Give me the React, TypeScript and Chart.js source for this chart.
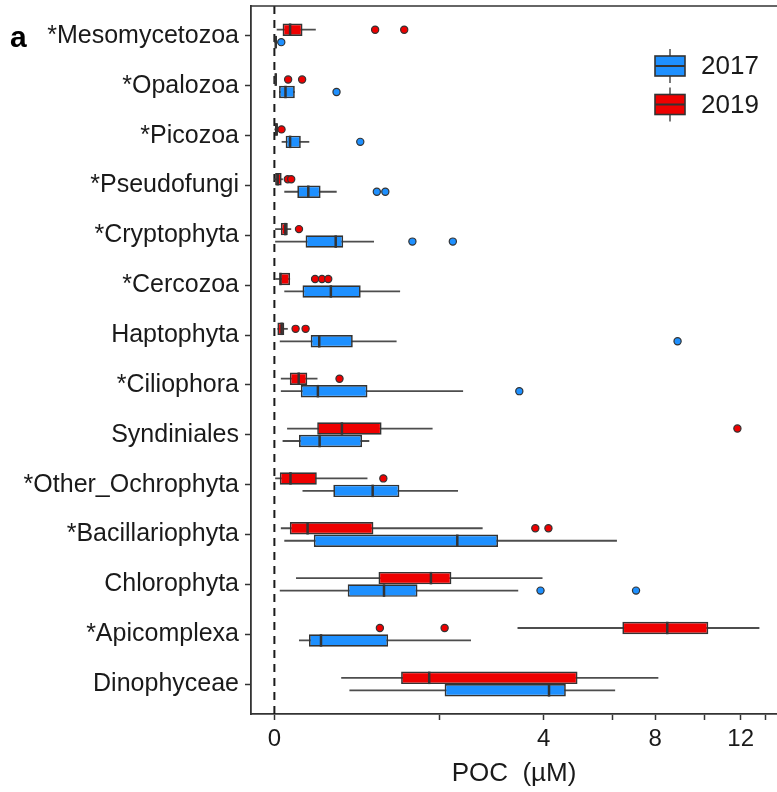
import React, { useEffect, useRef } from 'react';
import { Chart, registerables, LinearScale } from 'chart.js';

Chart.register(...registerables);

// ---------- data ----------
const categories = [
  '*Mesomycetozoa', '*Opalozoa', '*Picozoa', '*Pseudofungi', '*Cryptophyta', '*Cercozoa',
  'Haptophyta', '*Ciliophora', 'Syndiniales', '*Other_Ochrophyta', '*Bacillariophyta',
  'Chlorophyta', '*Apicomplexa', 'Dinophyceae',
];

const xMajorTicks = [0, 4, 8, 12];
const xMinorTicks = [1.5, 6.3, 10.2, 13.3];

// 2019 (red)
const low2019 = [0.0003, 0, 0, 0, 0.00003, 0.00003, 0.0005, 0.0023, 0.0089, 0.00003, 0.0023, 0.0258, 3.262, 0.2463];
const q1_2019 = [0.0037, 0, 0, 0.00003, 0.0023, 0.0016, 0.0005, 0.0131, 0.1011, 0.0016, 0.0131, 0.598, 6.681, 0.886];
const med2019 = [0.0136, 0.0001, 0.0002, 0.0006, 0.0066, 0.002, 0.0029, 0.0326, 0.2515, 0.0143, 0.0608, 1.352, 8.516, 1.3227];
const q3_2019 = [0.0436, 0.0003, 0.0007, 0.0029, 0.0099, 0.0136, 0.0054, 0.0597, 0.634, 0.0992, 0.541, 1.729, 10.39, 5.071];
const high2019 = [0.0946, 0.0003, 0.0007, 0.004, 0.0156, 0.0136, 0.0099, 0.1025, 1.381, 0.478, 2.393, 3.967, 12.98, 8.135];
const out2019 = [[0.56, 0.93], [0.0104, 0.0424], [0.0028], [0.0099, 0.0156], [0.0334], [0.0914, 0.125, 0.16], [0.0248, 0.0537], [0.234], [11.83], [0.655], [3.757, 4.144], [], [0.614, 1.599], []];

// 2017 (blue)
const low2017 = [0, 0.0012, 0.0029, 0.0054, 0.00003, 0.0054, 0.0016, 0.0023, 0.0037, 0.0436, 0.0054, 0.0016, 0.0334, 0.3105];
const q1_2017 = [0, 0.0012, 0.007, 0.0289, 0.0537, 0.0436, 0.0727, 0.0385, 0.0334, 0.1915, 0.0857, 0.2966, 0.0661, 1.599];
const med2017 = [0.0001, 0.0068, 0.0136, 0.0634, 0.2074, 0.176, 0.111, 0.1044, 0.1128, 0.533, 1.846, 0.663, 0.1199, 4.162];
const q3_2017 = [0.0002, 0.023, 0.0385, 0.1178, 0.2613, 0.411, 0.339, 0.478, 0.4245, 0.862, 2.76, 1.13, 0.7136, 4.687];
const high2017 = [0.0002, 0.023, 0.0672, 0.2142, 0.5476, 0.872, 0.824, 1.965, 0.497, 1.861, 6.475, 3.281, 2.133, 6.407];
const out2017 = [[0.0026], [0.213], [0.407], [0.579, 0.679], [1.051, 1.757], [], [8.97], [3.31], [], [], [], [3.908, 7.217], [], []];

const RED = '#EE0000';
const BLUE = '#1E90FF';
const FONT = "'Liberation Sans', Arial, Helvetica, sans-serif";
const TEXT = '#1a1a1a';

const series = [
  { label: '2019', color: RED, low: low2019, q1: q1_2019, med: med2019, q3: q3_2019, high: high2019, out: out2019 },
  { label: '2017', color: BLUE, low: low2017, q1: q1_2017, med: med2017, q3: q3_2017, high: high2017, out: out2017 },
];
const legendOrder = [1, 0];

// ---------- square-root scale ----------
const tr = (v: number) => Math.sign(v) * Math.sqrt(Math.abs(v));

class SqrtScale extends LinearScale {
  static id = 'sqrtLinear';
  static defaults = LinearScale.defaults;
  getPixelForValue(value: any) {
    if (value === null || value === undefined || isNaN(value)) return NaN;
    const a = tr(this.min);
    const b = tr(this.max);
    return this.getPixelForDecimal((tr(value) - a) / (b - a));
  }
  getValueForPixel(pixel: number) {
    const a = tr(this.min);
    const b = tr(this.max);
    const t = a + this.getDecimalForPixel(pixel) * (b - a);
    return Math.sign(t) * t * t;
  }
}
Chart.register(SqrtScale as any);

// ---------- plugin for whiskers, medians, outliers, frame, legend ----------
const boxplotPlugin = {
  id: 'boxplotExtras',
  beforeDatasetsDraw(chart: any) {
    const { ctx, chartArea } = chart;
    const xs = chart.scales.x;
    const x0 = xs.getPixelForValue(0);
    ctx.save();
    ctx.strokeStyle = '#1a1a1a';
    ctx.lineWidth = 2;
    ctx.setLineDash([8, 6]);
    ctx.beginPath();
    ctx.moveTo(x0, chartArea.top);
    ctx.lineTo(x0, chartArea.bottom);
    ctx.stroke();
    ctx.setLineDash([]);
    ctx.strokeStyle = '#4d4d4d';
    ctx.lineWidth = 1.8;
    series.forEach((s, di) => {
      const meta = chart.getDatasetMeta(di);
      meta.data.forEach((el: any, i: number) => {
        ctx.beginPath();
        ctx.moveTo(xs.getPixelForValue(s.low[i]), el.y);
        ctx.lineTo(xs.getPixelForValue(s.high[i]), el.y);
        ctx.stroke();
      });
    });
    ctx.restore();
  },
  afterDatasetsDraw(chart: any) {
    const { ctx } = chart;
    const xs = chart.scales.x;
    ctx.save();
    series.forEach((s, di) => {
      const meta = chart.getDatasetMeta(di);
      meta.data.forEach((el: any, i: number) => {
        const h = el.height;
        const xm = xs.getPixelForValue(s.med[i]);
        ctx.strokeStyle = '#333333';
        ctx.lineWidth = 2.5;
        ctx.beginPath();
        ctx.moveTo(xm, el.y - h / 2);
        ctx.lineTo(xm, el.y + h / 2);
        ctx.stroke();
        s.out[i].forEach((v: number) => {
          ctx.beginPath();
          ctx.arc(xs.getPixelForValue(v), el.y, 3.6, 0, Math.PI * 2);
          ctx.fillStyle = s.color;
          ctx.fill();
          ctx.lineWidth = 1.2;
          ctx.strokeStyle = '#333333';
          ctx.stroke();
        });
      });
    });
    ctx.restore();
  },
  afterDraw(chart: any) {
    const { ctx, chartArea } = chart;
    ctx.save();
    // top frame line
    ctx.strokeStyle = '#333333';
    ctx.lineWidth = 1.5;
    ctx.beginPath();
    ctx.moveTo(chartArea.left, chartArea.top);
    ctx.lineTo(chartArea.right, chartArea.top);
    ctx.stroke();

    // legend
    const lx = chartArea.right - 122;
    const rows = [60, 98.5];
    legendOrder.forEach((si, r) => {
      const s = series[si];
      const cy = chartArea.top + rows[r];
      ctx.strokeStyle = '#4d4d4d';
      ctx.lineWidth = 1.5;
      ctx.beginPath();
      ctx.moveTo(lx + 15, cy - 17);
      ctx.lineTo(lx + 15, cy + 17);
      ctx.stroke();
      ctx.fillStyle = s.color;
      ctx.fillRect(lx, cy - 10, 30, 20);
      ctx.strokeStyle = '#333333';
      ctx.lineWidth = 1.6;
      ctx.strokeRect(lx, cy - 10, 30, 20);
      ctx.lineWidth = 2;
      ctx.beginPath();
      ctx.moveTo(lx, cy);
      ctx.lineTo(lx + 30, cy);
      ctx.stroke();
      ctx.fillStyle = TEXT;
      ctx.font = `26px ${FONT}`;
      ctx.textAlign = 'left';
      ctx.textBaseline = 'middle';
      ctx.fillText(s.label, lx + 46, cy + 1);
    });

    // panel letter
    ctx.fillStyle = '#000';
    ctx.font = `bold 30px ${FONT}`;
    ctx.textAlign = 'left';
    ctx.textBaseline = 'alphabetic';
    ctx.fillText('a', 10, 47);
    ctx.restore();
  },
};

export default function App() {
  const ref = useRef<HTMLCanvasElement>(null);
  useEffect(() => {
    if (!ref.current) return;
    const chart = new Chart(ref.current, {
      type: 'bar',
      data: {
        datasets: series.map((s) => ({
          label: s.label,
          data: categories.map((_, i) => ({ y: i, x: [s.q1[i], s.q3[i]] })),
          backgroundColor: s.color,
          borderColor: '#333333',
          borderWidth: 1.7,
          borderSkipped: false,
          categoryPercentage: 0.5,
          barPercentage: 1,
        })) as any,
      },
      options: {
        animation: false,
        responsive: false,
        indexAxis: 'y',
        events: [],
        layout: { padding: { top: 6, right: 0, left: 0, bottom: 0 } },
        plugins: { legend: { display: false }, tooltip: { enabled: false } },
        scales: {
          x: {
            type: 'sqrtLinear' as any,
            min: -0.0302,
            max: 13.94,
            offset: false,
            afterBuildTicks: (s: any) => {
              s.ticks = [...xMajorTicks, ...xMinorTicks].sort((a, b) => a - b).map((v) => ({ value: v }));
            },
            afterFit: (s: any) => { s.height = 78; },
            grid: { offset: false, drawOnChartArea: false, drawTicks: true, tickLength: 6, tickWidth: 1.5, tickColor: '#333333' },
            border: { display: true, color: '#333333', width: 1.8 },
            ticks: {
              autoSkip: false,
              maxRotation: 0,
              padding: 5,
              color: TEXT,
              font: { size: 24, family: FONT },
              callback: (v: any) => (xMajorTicks.includes(v) ? String(v) : ''),
            },
            title: {
              display: true,
              text: 'POC  (µM)',
              color: TEXT,
              font: { size: 26, family: FONT, lineHeight: 1.2 },
              padding: { top: 0, bottom: 3 },
            },
          },
          y: {
            type: 'linear',
            reverse: true,
            min: -0.6,
            max: 13.6,
            offset: false,
            afterBuildTicks: (s: any) => {
              s.ticks = categories.map((_, i) => ({ value: i }));
            },
            afterFit: (s: any) => { s.width = 251; s.paddingTop = 0; s.paddingBottom = 0; },
            grid: { offset: false, drawOnChartArea: false, drawTicks: true, tickLength: 6, tickWidth: 1.5, tickColor: '#333333' },
            border: { display: true, color: '#333333', width: 1.8 },
            ticks: {
              autoSkip: false,
              padding: 6,
              color: TEXT,
              font: { size: 25, family: FONT },
              callback: (v: any) => categories[v] ?? '',
            },
          },
        },
      } as any,
      plugins: [boxplotPlugin],
    });
    return () => chart.destroy();
  }, []);
  return (
    <div style={{ position: 'absolute', left: 0, top: 0, width: 777, height: 792, background: '#ffffff' }}>
      <canvas ref={ref} width={777} height={792} style={{ display: 'block' }} />
    </div>
  );
}
